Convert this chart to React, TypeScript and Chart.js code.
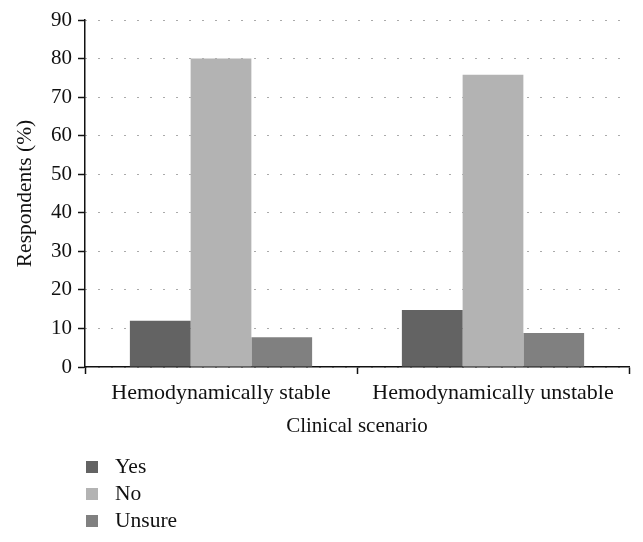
import React, { useEffect, useRef } from "react";
import { Chart, registerables } from "chart.js";

Chart.register(...registerables);

const categories = ["Hemodynamically stable", "Hemodynamically unstable"];
const seriesNames = ["Yes", "No", "Unsure"];
const yesValues = [12, 14.8];
const noValues = [80, 75.8];
const unsureValues = [7.7, 8.8];
const seriesColors = ["#636363", "#b3b3b3", "#808080"];
const yTickMax = 90;
const yTickStep = 10;

const FONT = "'Liberation Serif', 'Times New Roman', serif";

const legendPlugin = {
  id: "verticalLegend",
  afterDraw(chart: any) {
    const ctx = chart.ctx;
    const area = chart.chartArea;
    ctx.save();
    ctx.font = `21.5px ${FONT}`;
    ctx.textBaseline = "middle";
    ctx.textAlign = "left";
    chart.data.datasets.forEach((ds: any, i: number) => {
      const cy = area.bottom + 100 + i * 27;
      ctx.fillStyle = ds.backgroundColor;
      ctx.fillRect(area.left + 1, cy - 6, 12, 12);
      ctx.fillStyle = "#111";
      ctx.fillText(ds.label, area.left + 30, cy);
    });
    ctx.restore();
  },
};

export default function App() {
  const ref = useRef<HTMLCanvasElement | null>(null);
  useEffect(() => {
    if (!ref.current) return;
    const values = [yesValues, noValues, unsureValues];
    const chart = new Chart(ref.current, {
      type: "bar",
      data: {
        labels: categories,
        datasets: seriesNames.map((name, i) => ({
          label: name,
          data: values[i],
          backgroundColor: seriesColors[i],
          borderWidth: 0,
          categoryPercentage: 0.67,
          barPercentage: 1.0,
        })),
      },
      options: {
        animation: false,
        responsive: true,
        maintainAspectRatio: false,
        layout: { padding: { left: 0, right: 14, top: 20, bottom: 103 } },
        plugins: {
          legend: { display: false },
          tooltip: { enabled: false },
        },
        scales: {
          x: {
            grid: {
              display: true,
              drawOnChartArea: false,
              drawTicks: true,
              tickLength: 7,
              tickColor: "#111",
              tickWidth: 1.5,
              offset: true,
            },
            border: { display: true, color: "#111", width: 1.5 },
            ticks: {
              color: "#111",
              padding: 6,
              font: { family: FONT, size: 22 },
              maxRotation: 0,
              autoSkip: false,
            },
            title: {
              display: true,
              text: "Clinical scenario",
              color: "#111",
              font: { family: FONT, size: 21 },
              padding: { top: 0, bottom: 0 },
            },
            afterFit: (s: any) => {
              s.height = 72;
            },
          },
          y: {
            min: 0,
            max: yTickMax,
            ticks: {
              stepSize: yTickStep,
              color: "#111",
              padding: 6,
              font: { family: FONT, size: 21 },
            },
            grid: {
              color: "#555",
              lineWidth: 1,
              drawTicks: true,
              tickLength: 7,
              tickColor: "#111",
              tickWidth: 1.5,
              tickBorderDash: [],
            },
            border: { display: true, color: "#111", width: 1.5, dash: [1, 12] },
            title: {
              display: true,
              text: "Respondents (%)",
              color: "#111",
              font: { family: FONT, size: 21.5 },
              padding: { top: 12, bottom: 0 },
            },
            afterFit: (s: any) => {
              s.width = 85;
            },
          },
        },
      },
      plugins: [legendPlugin],
    });
    return () => chart.destroy();
  }, []);
  return (
    <div style={{ position: "fixed", left: 0, top: 0, width: 643, height: 542, background: "#fff" }}>
      <canvas ref={ref} />
    </div>
  );
}
